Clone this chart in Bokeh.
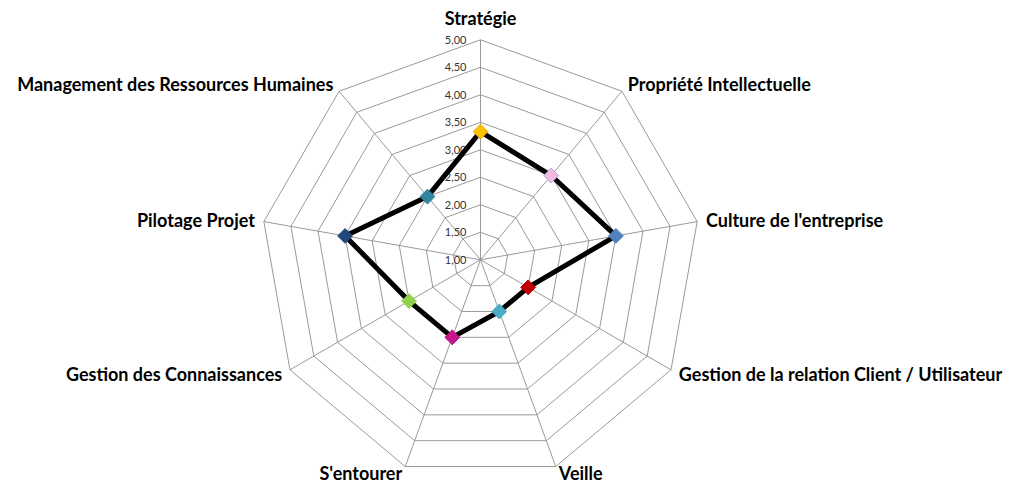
import numpy as np
from bokeh.plotting import figure
from bokeh.models import Range1d, ColumnDataSource
from bokeh.core.properties import value
from bokeh.embed import file_html
from bokeh.resources import INLINE

# ---------------- data ----------------
categories = [
    "Stratégie",
    "Propriété Intellectuelle",
    "Culture de l'entreprise",
    "Gestion de la relation Client / Utilisateur",
    "Veille",
    "S'entourer",
    "Gestion des Connaissances",
    "Pilotage Projet",
    "Management des Ressources Humaines",
]
scores = [3.33, 3.0, 3.5, 2.0, 2.0, 2.5, 2.5, 3.5, 2.5]
tick_values = [1.0, 1.5, 2.0, 2.5, 3.0, 3.5, 4.0, 4.5, 5.0]
tick_labels = ["1,00", "1,50", "2,00", "2,50", "3,00", "3,50", "4,00", "4,50", "5,00"]

# ---------------- styles ----------------
marker_fill = ["#FFC000", "#F5B9DE", "#4F81BD", "#C00000", "#4BACC6",
               "#C8168C", "#92D050", "#1F497D", "#31859C"]
marker_line = ["#E0A800", "#9FA9DA", "#4F81BD", "#C00000", "#4BACC6",
               "#A8127A", "#92D050", "#1F497D", "#31859C"]

V_MIN, V_MAX = tick_values[0], tick_values[-1]
PX_PER_UNIT = 55.0          # radial scale (pixels per score unit)
LABEL_PAD = 9.0
GRID_COLOR = "#9a9a9a"
FONT = "Lato"
CX, CY = 480.0, 259.3       # centre of the web inside the canvas

n = len(categories)
angles = np.pi / 2 - 2 * np.pi * np.arange(n) / n


def polar(v, ang):
    r = (np.asarray(v, dtype=float) - V_MIN) * PX_PER_UNIT
    return r * np.cos(ang), r * np.sin(ang)


W, H = 1009, 483
p = figure(width=W, height=H, output_backend="svg", toolbar_location=None,
           x_axis_type=None, y_axis_type=None, min_border=0,
           x_range=Range1d(-CX, -CX + W), y_range=Range1d(CY - H, CY))
p.grid.visible = False
p.outline_line_color = None
p.background_fill_color = "white"
p.border_fill_color = "white"

# grid rings
ring_xs, ring_ys = [], []
for tv in tick_values[1:]:
    xs, ys = polar([tv] * n, angles)
    ring_xs.append(list(xs) + [xs[0]])
    ring_ys.append(list(ys) + [ys[0]])
p.multi_line(ring_xs, ring_ys, line_color=GRID_COLOR, line_width=1)

# spokes
ox, oy = polar([V_MAX] * n, angles)
p.segment(x0=np.zeros(n), y0=np.zeros(n), x1=ox, y1=oy,
          line_color=GRID_COLOR, line_width=1)

# tick labels along the vertical spoke
tx, ty = polar(tick_values, np.full(len(tick_values), np.pi / 2))
p.text(x=tx - 14, y=ty, text=tick_labels, text_align="right",
       text_baseline="middle", text_font=value(FONT), text_font_size="11px",
       text_color="#333333")

# data polygon
dx, dy = polar(scores, angles)
p.line(list(dx) + [dx[0]], list(dy) + [dy[0]], line_color="black",
       line_width=5, line_join="round")

src = ColumnDataSource(dict(x=dx, y=dy, fill=marker_fill, line=marker_line,
                            cat=categories))
p.scatter("x", "y", source=src, marker="square", size=10.5, angle=np.pi / 4,
          fill_color="fill", line_color="line", line_width=1)

# category labels
lr = (V_MAX - V_MIN) * PX_PER_UNIT + LABEL_PAD
cos_a, sin_a = np.cos(angles), np.sin(angles)
aligns = ["center" if abs(c) < 0.1 else ("left" if c > 0 else "right") for c in cos_a]
baselines = ["alphabetic" if s < -0.9 else "middle" for s in sin_a]
extra = np.array([13.0 if a == "center" else 0.0 for a in aligns])
lx = (lr + extra) * cos_a
ly = (lr + extra) * sin_a + np.array([2.0 if b == "alphabetic" else 0.0 for b in baselines])
for i in range(n):
    p.text(x=[lx[i]], y=[ly[i]], text=[categories[i]], text_align=aligns[i],
           text_baseline=baselines[i], text_font=value(FONT), text_font_size="18px",
           text_font_style="bold", text_color="black")

open("out.html", "w").write(file_html(p, INLINE))
